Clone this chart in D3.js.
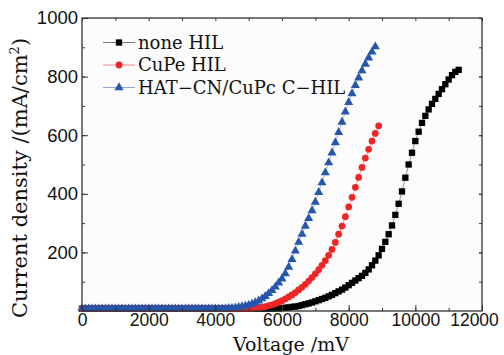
<!DOCTYPE html>
<html>
<head>
<meta charset="utf-8">
<script src="https://cdn.jsdelivr.net/npm/d3@7"></script>
<style>
  body { margin: 0; background: #fff; }
  svg { display: block; font-family: "DejaVu Serif", serif; }
</style>
</head>
<body>
<svg id="chart"></svg>
<script>
// current density (mA/cm2) at 100 mV steps starting at 0 mV
var voltStep = 100;

var noneHIL = [
  8, 8, 8, 8, 8, 8, 8, 8, 8, 8, 8, 8, 8, 8, 8, 8, 8, 8, 8, 8,
  8, 8, 8, 8, 8, 8, 8, 8, 8, 8, 8, 8, 8, 8, 8, 8, 8, 8, 8, 8,
  8, 8, 8, 8, 8, 8, 8, 8, 8, 8, 8, 8, 8, 8, 8, 8, 8, 8, 9, 9,
  10, 11, 12, 14, 15, 17, 20, 23, 26, 29, 33, 37, 41, 45, 50, 55, 61, 67, 73, 80,
  88, 96, 104, 112, 120, 130, 142, 156, 172, 190, 212, 236, 262, 292, 328, 366, 408, 455, 500, 540,
  580, 612, 642, 666, 688, 707, 724, 741, 757, 774, 790, 805, 816, 823
];

var cuPeHIL = [
  8, 8, 8, 8, 8, 8, 8, 8, 8, 8, 8, 8, 8, 8, 8, 8, 8, 8, 8, 8,
  8, 8, 8, 8, 8, 8, 8, 8, 8, 8, 8, 8, 8, 8, 8, 8, 8, 8, 8, 8,
  8, 8, 8, 8, 8, 8, 8, 8, 8, 8, 8, 8, 10, 11, 13, 15, 18, 21, 25, 30,
  35, 41, 48, 55, 63, 72, 81, 91, 102, 114, 127, 141, 156, 172, 190, 210, 234, 262, 290, 322,
  355, 388, 422, 456, 490, 522, 552, 580, 606, 632
];

var hatCHIL = [
  8, 8, 8, 8, 8, 8, 8, 8, 8, 8, 8, 8, 8, 8, 8, 8, 8, 8, 8, 8,
  8, 8, 8, 8, 8, 8, 8, 8, 8, 8, 8, 8, 8, 8, 8, 8, 8, 8, 8, 8,
  8, 8, 8, 8, 9, 10, 11, 13, 15, 17, 20, 24, 29, 35, 42, 50, 60, 70, 82, 96,
  110, 128, 150, 176, 205, 235, 262, 290, 316, 343, 372, 405, 438, 472, 506, 540, 575, 610, 645, 680,
  712, 742, 770, 796, 820, 843, 864, 884, 902
];

var seriesNames = ["none HIL", "CuPe HIL", "HAT\u2212CN/CuPc C\u2212HIL"];
var xTicks = [0, 2000, 4000, 6000, 8000, 10000, 12000];
var yTicks = [200, 400, 600, 800, 1000];

var W = 504, H = 355;
var margin = {left: 82, right: 22, top: 18, bottom: 44};

var svg = d3.select("#chart")
    .attr("width", W)
    .attr("height", H);

var x = d3.scaleLinear().domain([0, 12000]).range([margin.left, W - margin.right]);
var y = d3.scaleLinear().domain([0, 1000]).range([H - margin.bottom, margin.top]);

var series = [
  {name: seriesNames[0], values: noneHIL, color: "#000000", line: "#777777", shape: d3.symbolSquare, size: 40},
  {name: seriesNames[1], values: cuPeHIL, color: "#ef2626", line: "#f08080", shape: d3.symbolCircle, size: 36},
  {name: seriesNames[2], values: hatCHIL, color: "#2656ab", line: "#8aa6d6", shape: d3.symbolTriangle, size: 36}
];

// plot background
svg.append("rect")
    .attr("x", x(0)).attr("y", y(1000))
    .attr("width", x(12000) - x(0)).attr("height", y(0) - y(1000))
    .attr("fill", "#fcfcfc");

var line = d3.line()
    .x(function(d, i) { return x(i * voltStep); })
    .y(function(d) { return y(d); });

series.forEach(function(s) {
  var g = svg.append("g");
  g.append("path")
      .datum(s.values)
      .attr("d", line)
      .attr("fill", "none")
      .attr("stroke", s.line)
      .attr("stroke-width", 0.8);
  g.selectAll("path.pt")
      .data(s.values)
      .enter().append("path")
      .attr("class", "pt")
      .attr("d", d3.symbol().type(s.shape).size(s.size))
      .attr("transform", function(d, i) { return "translate(" + x(i * voltStep) + "," + y(d) + ")"; })
      .attr("fill", s.color);
});

// axes, ticks pointing inward
var xMinor = d3.range(0, 12001, 1000);
var yMinor = d3.range(100, 1000, 100);

var axisStyle = function(size) {
  return function(g) {
    g.select(".domain").remove();
    g.selectAll("line").attr("stroke", "#333");
    g.selectAll("text").attr("fill", "#111").attr("font-size", size);
  };
};

svg.append("g")
    .attr("transform", "translate(0," + y(0) + ")")
    .call(d3.axisBottom(x).tickValues(xMinor).tickSize(-3).tickFormat(""))
    .call(axisStyle(17.5));
var xAxisG = svg.append("g")
    .attr("transform", "translate(0," + y(0) + ")")
    .call(d3.axisBottom(x).tickValues(xTicks).tickSize(-6).tickPadding(3).tickFormat(d3.format("d")))
    .call(axisStyle(17.5));
xAxisG.selectAll("text").filter(function(d) { return d === 12000; }).attr("dx", -8);

svg.append("g")
    .attr("transform", "translate(" + x(0) + ",0)")
    .call(d3.axisLeft(y).tickValues(yMinor).tickSize(-3).tickFormat(""))
    .call(axisStyle(18.5));
svg.append("g")
    .attr("transform", "translate(" + x(0) + ",0)")
    .call(d3.axisLeft(y).tickValues(yTicks).tickSize(-6).tickPadding(4).tickFormat(d3.format("d")))
    .call(axisStyle(18.5));

svg.append("g")
    .attr("transform", "translate(0," + y(1000) + ")")
    .call(d3.axisTop(x).tickValues(xMinor).tickSize(-3).tickFormat(""))
    .call(axisStyle(17.5));
svg.append("g")
    .attr("transform", "translate(" + x(12000) + ",0)")
    .call(d3.axisRight(y).tickValues(yMinor.concat(yTicks)).tickSize(-3).tickFormat(""))
    .call(axisStyle(17.5));

svg.append("rect")
    .attr("x", x(0)).attr("y", y(1000))
    .attr("width", x(12000) - x(0)).attr("height", y(0) - y(1000))
    .attr("fill", "none")
    .attr("stroke", "#333")
    .attr("stroke-width", 1.3);

// legend
var legend = svg.append("g").attr("transform", "translate(103,42.5)");
series.forEach(function(s, i) {
  var row = legend.append("g").attr("transform", "translate(0," + i * 22.5 + ")");
  row.append("line")
      .attr("x1", 0).attr("x2", 32)
      .attr("stroke", s.line).attr("stroke-width", 1);
  row.append("path")
      .attr("d", d3.symbol().type(s.shape).size(s.size))
      .attr("transform", "translate(16,0)")
      .attr("fill", s.color);
  row.append("text")
      .attr("x", 35).attr("dy", "0.35em")
      .attr("font-size", 18)
      .attr("fill", "#111")
      .text(s.name);
});

// axis titles
svg.append("text")
    .attr("x", 291).attr("y", 350.5)
    .attr("text-anchor", "middle")
    .attr("font-size", 19)
    .attr("fill", "#111")
    .text("Voltage /mV");

var yt = svg.append("text")
    .attr("transform", "translate(27,178) rotate(-90)")
    .attr("text-anchor", "middle")
    .attr("font-size", 21)
    .attr("fill", "#111");
yt.append("tspan").text("Current density /(mA/cm");
yt.append("tspan").attr("dy", -8).attr("font-size", 13).text("2");
yt.append("tspan").attr("dy", 8).text(")");
</script>
</body>
</html>
